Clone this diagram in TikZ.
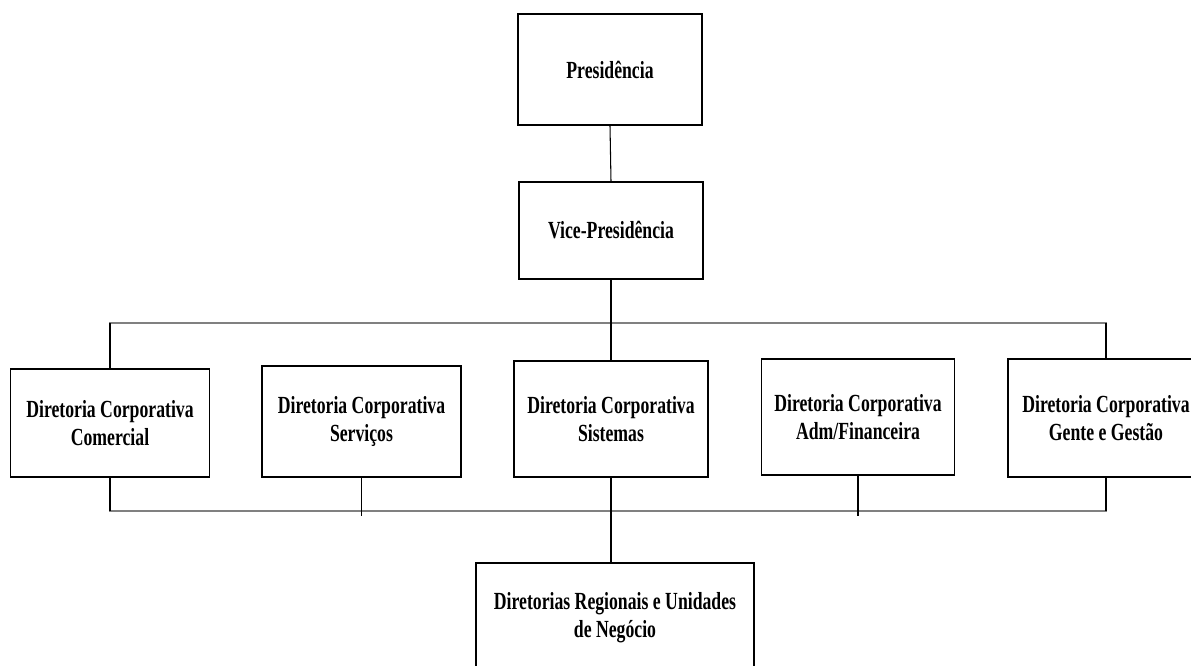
\documentclass[tikz,border=0pt]{standalone}
\usepackage{fontspec}
\setmainfont{Liberation Serif}[FakeStretch=0.72]
\usepackage{tikz}

\tikzset{
  orgbox/.style={draw, line width=0.9pt, inner sep=0pt, align=center,
    font=\fontsize{14}{16}\selectfont\bfseries},
  bus/.style={draw=gray, line width=1.3pt},
  drop/.style={draw, line width=0.6pt}
}

\begin{document}
\begin{tikzpicture}[x=0.02cm, y=-0.02cm]
\useasboundingbox (0,0) rectangle (1191,666);
\clip (0,0) rectangle (1191,666);

% top of the chart
\node[orgbox, minimum width=184*0.02cm, minimum height=111*0.02cm] (pres) at (610,69.5) {Presidência};
\node[orgbox, minimum width=184*0.02cm, minimum height=97*0.02cm] (vp) at (611,230.5) {Vice-Presidência};

% corporate boards
\node[orgbox, minimum width=199*0.02cm, minimum height=108*0.02cm] (com) at (110,423) {Diretoria Corporativa\\Comercial};
\node[orgbox, minimum width=199*0.02cm, minimum height=111*0.02cm] (ser) at (361.5,421.5) {Diretoria Corporativa\\Serviços};
\node[orgbox, minimum width=194*0.02cm, minimum height=116*0.02cm] (sis) at (611,419) {Diretoria Corporativa\\Sistemas};
\node[orgbox, minimum width=193*0.02cm, minimum height=116*0.02cm] (adm) at (858,417) {Diretoria Corporativa\\Adm/Financeira};
\node[orgbox, minimum width=196*0.02cm, minimum height=118*0.02cm] (gen) at (1106,418) {Diretoria Corporativa\\Gente e Gestão};

% regional level
\node[orgbox, minimum width=278*0.02cm, minimum height=110*0.02cm] (reg) at (615,618) {Diretorias Regionais e Unidades\\de Negócio};

\coordinate (topbus) at (611,323);
\coordinate (botbus) at (611,511);
\coordinate (botend) at (611,516);

\draw[drop] (pres.south) -- (vp.north);
\draw[bus] (com.north) |- (topbus) -| (gen.north);
\draw[bus] (com.south) |- (botbus) -| (gen.south);
\draw[drop] (vp.south) -- (sis.north);
\draw[drop] (sis.south) -- (sis.south |- reg.north);
\draw[drop] (com.north) -- (com.north |- topbus);
\draw[drop] (gen.north) -- (gen.north |- topbus);
\draw[drop] (com.south) -- (com.south |- botbus);
\draw[drop] (gen.south) -- (gen.south |- botbus);
\draw[drop] (ser.south) -- (ser.south |- botend);
\draw[drop] (adm.south) -- (adm.south |- botend);
\end{tikzpicture}
\end{document}
